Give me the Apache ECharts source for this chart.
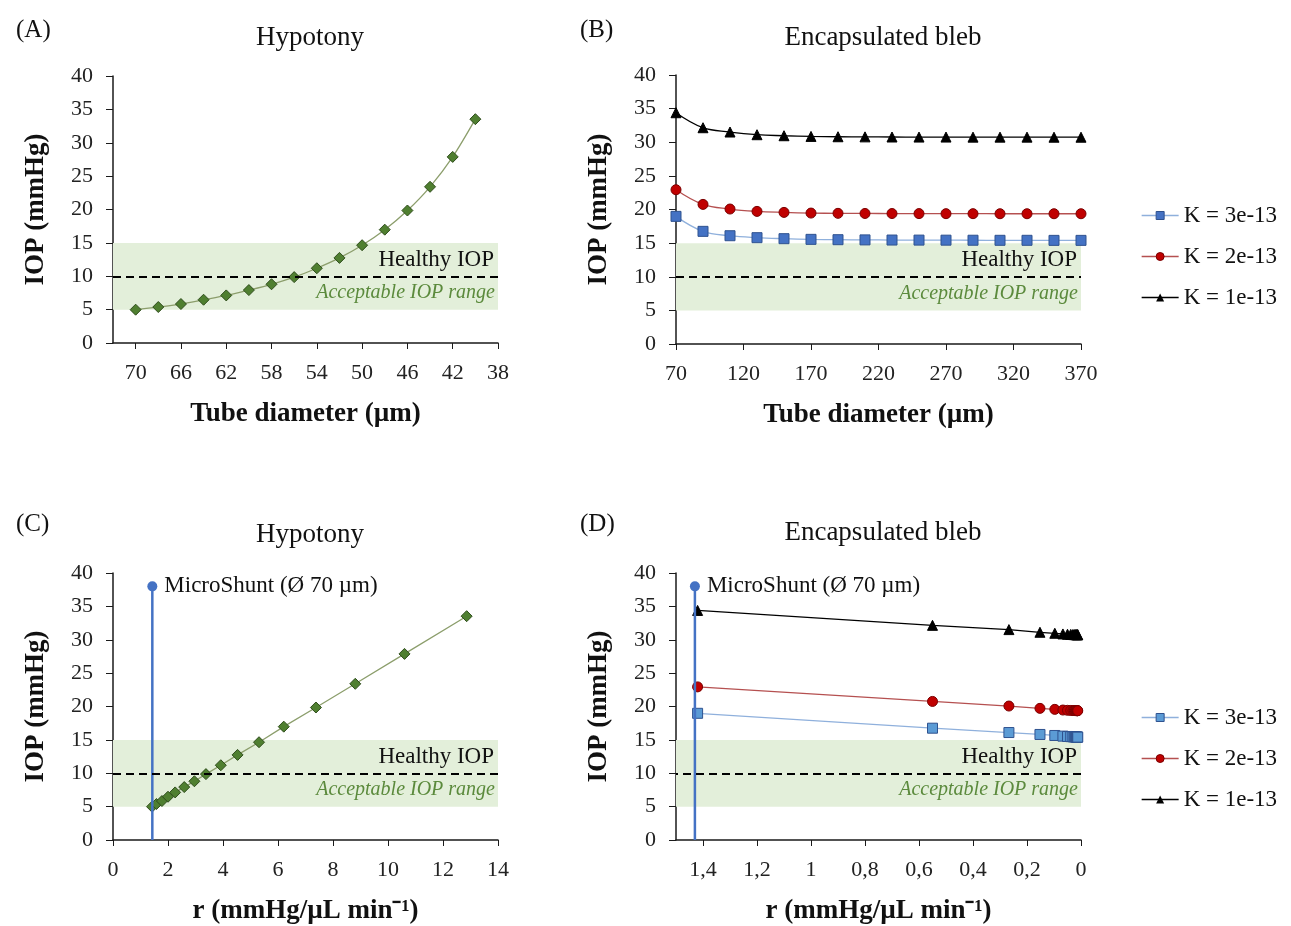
<!DOCTYPE html>
<html>
<head>
<meta charset="utf-8">
<script src="https://cdn.jsdelivr.net/npm/echarts@6/dist/echarts.min.js"></script>
<style>
html,body{margin:0;padding:0;background:#fff;}
#main{width:1291px;height:926px;}
</style>
</head>
<body>
<div id="main"></div>
<script>
// ---------- data ----------
const diameterHypo = [70, 68, 66, 64, 62, 60, 58, 56, 54, 52, 50, 48, 46, 44, 42, 40];
const iopHypo = [4.99, 5.39, 5.84, 6.48, 7.13, 7.93, 8.8, 9.87, 11.2, 12.75, 14.65, 16.98, 19.85, 23.4, 27.88, 33.53];
const rHypo = [1.42, 1.58, 1.78, 2.0, 2.26, 2.59, 2.96, 3.38, 3.92, 4.53, 5.31, 6.21, 7.38, 8.81, 10.6, 12.86];

const diameterBleb = [70, 90, 110, 130, 150, 170, 190, 210, 230, 250, 270, 290, 310, 330, 350, 370];
const rBleb = [1.42, 0.55, 0.267, 0.152, 0.097, 0.067, 0.05, 0.038, 0.03, 0.025, 0.021, 0.018, 0.016, 0.014, 0.013, 0.012];
const iopK3 = [18.98, 16.75, 16.1, 15.81, 15.66, 15.56, 15.51, 15.48, 15.46, 15.45, 15.44, 15.43, 15.42, 15.42, 15.41, 15.41];
const iopK2 = [22.94, 20.76, 20.07, 19.72, 19.57, 19.47, 19.43, 19.41, 19.4, 19.39, 19.38, 19.38, 19.37, 19.37, 19.37, 19.37];
const iopK1 = [34.39, 32.16, 31.52, 31.12, 30.97, 30.87, 30.82, 30.8, 30.78, 30.77, 30.77, 30.76, 30.76, 30.76, 30.75, 30.75];
const seriesNames = ['K = 3e-13', 'K = 2e-13', 'K = 1e-13'];

const microShuntR = 1.43;
const microShuntIOP = 38;
const microShuntLabel = 'MicroShunt (Ø 70 µm)';

const bandLow = 5, healthyIOP = 10, bandHigh = 15;
const panelLabels = ['(A)', '(B)', '(C)', '(D)'];
const panelTitles = ['Hypotony', 'Encapsulated bleb', 'Hypotony', 'Encapsulated bleb'];
const yName = 'IOP (mmHg)';
const xNameDiam = 'Tube diameter (µm)';
const xNameR = 'r (mmHg/µL min⁻¹)';

// ---------- helpers ----------
const FONT = 'Liberation Serif';
const zip = (a, b) => a.map((v, i) => [v, b[i]]);

function band() {
  return {
    silent: true,
    itemStyle: { color: '#e3efda' },
    data: [
      [{ yAxis: bandHigh, label: { show: true, position: 'insideRight', formatter: 'Healthy IOP', color: '#111', fontFamily: FONT, fontSize: 23, distance: 4 } }, { yAxis: healthyIOP }],
      [{ yAxis: healthyIOP, label: { show: true, position: 'insideRight', formatter: 'Acceptable IOP range', color: '#5b8a3c', fontStyle: 'italic', fontFamily: FONT, fontSize: 20, distance: 3 } }, { yAxis: bandLow }]
    ]
  };
}
function dashed() {
  return {
    silent: true, symbol: 'none', label: { show: false },
    lineStyle: { color: '#000', type: [8, 5], width: 2 },
    data: [{ yAxis: healthyIOP }]
  };
}
const axisLineStyle = { show: true, onZero: false, lineStyle: { color: '#1a1a1a', width: 1.5 } };
const labelStyle = { fontFamily: FONT, fontSize: 22, color: '#222' };
const nameStyle = { fontFamily: FONT, fontSize: 27, fontWeight: 'bold', color: '#111' };

function yAxis(gi) {
  return {
    type: 'value', gridIndex: gi, min: 0, max: 40, interval: 5,
    axisLine: axisLineStyle, splitLine: { show: false },
    axisTick: { show: true, length: 7, lineStyle: { color: '#1a1a1a' } },
    axisLabel: Object.assign({ margin: 20 }, labelStyle),
    name: yName, nameLocation: 'middle', nameGap: 63, nameTextStyle: nameStyle
  };
}

const grids = [
  { left: 113, top: 76, width: 385, height: 267 },
  { left: 676, top: 75, width: 405, height: 269 },
  { left: 113, top: 573, width: 385, height: 270 },
  { left: 676, top: 573, width: 405, height: 272 }
];

const xAxes = [
  { type: 'value', gridIndex: 0, min: 38, max: 72, interval: 4, inverse: true,
    axisLabel: Object.assign({ showMaxLabel: false, margin: 19 }, labelStyle),
    name: xNameDiam },
  { type: 'value', gridIndex: 1, min: 70, max: 370, interval: 50,
    axisLabel: Object.assign({ margin: 19 }, labelStyle),
    name: xNameDiam },
  { type: 'value', gridIndex: 2, min: 0, max: 14, interval: 2,
    axisLabel: Object.assign({ margin: 19 }, labelStyle),
    name: xNameR },
  { type: 'value', gridIndex: 3, min: 0, max: 1.5, interval: 0.2, inverse: true,
    axisLabel: Object.assign({ showMaxLabel: false, margin: 19,
      formatter: v => String(Math.round(v * 10) / 10).replace('.', ',') }, labelStyle),
    name: xNameR }
].map(a => Object.assign(a, {
  axisLine: axisLineStyle,
  splitLine: { show: false },
  axisTick: { show: true, length: 6, lineStyle: { color: '#1a1a1a' } },
  nameLocation: 'middle', nameGap: 58, nameTextStyle: nameStyle
}));

const green = { symbol: 'diamond', symbolSize: 11, itemStyle: { color: '#4f7f30', borderColor: '#2f4d1c', borderWidth: 1 }, lineStyle: { color: '#8c9e6c', width: 1.3 } };
function kStyles(blue) {
  return [
    { symbol: 'rect', symbolSize: 10, itemStyle: { color: blue, borderColor: '#2f528f', borderWidth: 1 }, lineStyle: { color: '#8fb0dc', width: 1.3 } },
    { symbol: 'circle', symbolSize: 10, itemStyle: { color: '#c00000', borderColor: '#7a0000', borderWidth: 1 }, lineStyle: { color: '#b55050', width: 1.3 } },
    { symbol: 'triangle', symbolSize: 10, itemStyle: { color: '#000', borderColor: '#000' }, lineStyle: { color: '#000', width: 1.3 } }
  ];
}
const stylesB = kStyles('#4472c4');
const stylesD = kStyles('#5b9bd5');
const kData = [iopK3, iopK2, iopK1];

const series = [];
// A
series.push(Object.assign({ type: 'line', xAxisIndex: 0, yAxisIndex: 0, smooth: 0.3,
  data: zip(diameterHypo, iopHypo), markArea: band(), markLine: dashed(), z: 3 }, green));
// B
kData.forEach((d, i) => {
  const s = Object.assign({ type: 'line', name: seriesNames[i], xAxisIndex: 1, yAxisIndex: 1, smooth: 0.4,
    data: zip(diameterBleb, d), z: 3 }, stylesB[i]);
  if (i === 0) { s.markArea = band(); s.markLine = dashed(); }
  series.push(s);
});
// C
series.push(Object.assign({ type: 'line', xAxisIndex: 2, yAxisIndex: 2,
  data: zip(rHypo, iopHypo), markArea: band(), markLine: dashed(), z: 3 }, green));
// D
kData.forEach((d, i) => {
  const s = Object.assign({ type: 'line', name: seriesNames[i] + ' ', xAxisIndex: 3, yAxisIndex: 3,
    data: zip(rBleb, d), z: 3 }, stylesD[i]);
  if (i === 0) { s.markArea = band(); s.markLine = dashed(); }
  series.push(s);
});
// MicroShunt markers
[2, 3].forEach(ax => {
  series.push({
    type: 'line', xAxisIndex: ax, yAxisIndex: ax, z: 4,
    data: [
      { value: [microShuntR, 0], symbol: 'none' },
      { value: [microShuntR, microShuntIOP], symbol: 'circle', symbolSize: 10,
        label: { show: true, position: 'right', distance: 7, formatter: microShuntLabel, fontFamily: FONT, fontSize: 23, color: '#111' } }
    ],
    itemStyle: { color: '#4472c4' },
    lineStyle: { color: '#4472c4', width: 2.5 }
  });
});

const titles = [];
const labelPos = [[11, 13], [575, 13], [11, 507], [575, 507]];
const titlePos = [[305, 19], [878, 19], [305, 516], [878, 514]];
panelLabels.forEach((t, i) => titles.push({ text: t, left: labelPos[i][0], top: labelPos[i][1],
  textStyle: { fontFamily: FONT, fontSize: 25, fontWeight: 'normal', color: '#111' } }));
panelTitles.forEach((t, i) => titles.push({ text: t, left: titlePos[i][0], top: titlePos[i][1], textAlign: 'center',
  textStyle: { fontFamily: FONT, fontSize: 27, fontWeight: 'normal', color: '#111' } }));

function legend(top, names, styles) {
  return {
    orient: 'vertical', left: 1136, top: top, itemWidth: 37, itemHeight: 10, itemGap: 18,
    data: names.map((n, i) => ({ name: n, itemStyle: styles[i].itemStyle, lineStyle: styles[i].lineStyle })),
    textStyle: { fontFamily: FONT, fontSize: 23, color: '#111' },
    formatter: n => n.trim(),
    selectedMode: false
  };
}

const option = {
  animation: false,
  backgroundColor: '#fff',
  title: titles,
  grid: grids,
  xAxis: xAxes,
  yAxis: [0, 1, 2, 3].map(yAxis),
  legend: [
    legend(199, seriesNames, stylesB),
    legend(701, seriesNames.map(n => n + ' '), stylesD)
  ],
  series: series
};
const chart = echarts.init(document.getElementById('main'), null, { renderer: 'canvas' });
chart.setOption(option);
</script>
</body>
</html>
